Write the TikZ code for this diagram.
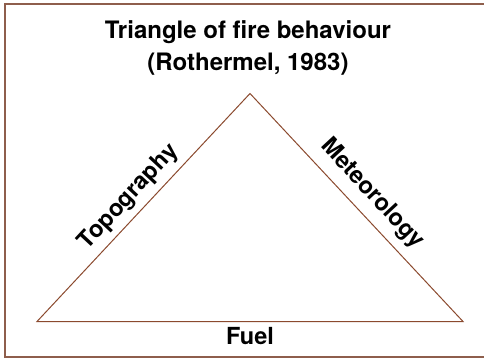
\documentclass[tikz,border=0pt]{standalone}
\usepackage{fontspec}
\setmainfont{TeX Gyre Heros}
\definecolor{framebrown}{HTML}{8E5E4C}
\definecolor{edgebrown}{HTML}{8B4A2E}
\begin{document}
\begin{tikzpicture}[x=1pt,y=-1pt,
  label/.style={font=\fontsize{23.5}{28}\selectfont\bfseries, inner sep=0pt},
  edge/.style={draw=edgebrown, line width=1pt}]
\useasboundingbox (0,0) rectangle (484,358);
% outer frame
\draw[framebrown, line width=1.2pt] (5,4) rectangle (486,357);
% title
\node[label, align=center, font=\fontsize{24}{32}\selectfont\bfseries] (title) at (248,47.5) {Triangle of fire behaviour\\(Rothermel, 1983)};
% triangle corners
\coordinate (apex) at (250,93.5);
\coordinate (left) at (37,321.5);
\coordinate (right) at (463,321.5);
\draw[edge] (left) -- (apex) -- (right) -- cycle;
% side labels
\node[label, rotate=47.1] (topo) at (129,197) {Topography};
\node[label, rotate=-47.1] (meteo) at (372,194) {Meteorology};
\node[label, anchor=north] (fuel) at (250,327) {Fuel};
\end{tikzpicture}
\end{document}
